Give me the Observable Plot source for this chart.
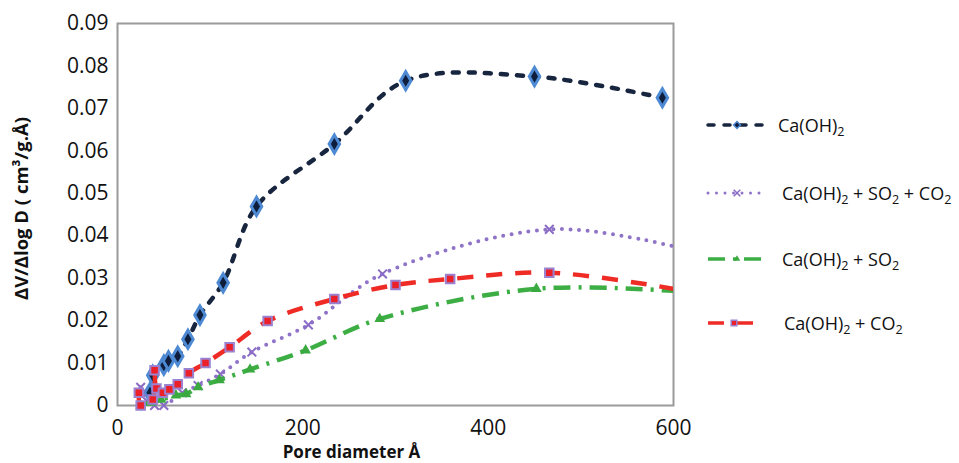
<!DOCTYPE html>
<html>
<head>
<meta charset="utf-8">
<script src="https://cdn.jsdelivr.net/npm/d3@7"></script>
<script src="https://cdn.jsdelivr.net/npm/@observablehq/plot@0.6"></script>
<style>
  html, body { margin: 0; padding: 0; background: #fff; }
  #wrap { position: relative; width: 959px; height: 463px; font-family: "Open Sans", sans-serif; }
  #chart { position: absolute; left: 0; top: 0; }
  #legend { position: absolute; left: 706px; top: 0; width: 253px; }
  .row { position: absolute; left: 0; display: flex; align-items: center; font-size: 18px; color: #111; white-space: nowrap; }
  .row svg { margin-right: 6px; }
  sub { font-size: 0.7em; vertical-align: -0.3em; line-height: 0; }
</style>
</head>
<body>
<div id="wrap">
  <div id="chart"></div>
  <div id="legend"></div>
</div>
<script>
// ---- data ----
const seriesNames = ["Ca(OH)2", "Ca(OH)2 + SO2 + CO2", "Ca(OH)2 + SO2", "Ca(OH)2 + CO2"];

const caohX = [35, 38, 50, 55, 65, 76, 89, 114, 150, 234, 311, 450, 588];
const caohY = [0.003, 0.0071, 0.0095, 0.0105, 0.0116, 0.0156, 0.0213, 0.0289, 0.0469, 0.0616, 0.0765, 0.0775, 0.0725];

const so2co2X = [25, 32, 40, 50, 70, 87, 111, 145, 206, 286, 466, 600];
const so2co2Y = [0.0043, 0.001, 0.0, 0.0, 0.003, 0.0047, 0.0074, 0.0126, 0.019, 0.031, 0.0415, 0.0375];

const so2X = [25, 36, 47, 63, 74, 87, 110, 143, 203, 283, 452, 600];
const so2Y = [0.0, 0.0007, 0.0014, 0.0024, 0.0027, 0.0043, 0.006, 0.0085, 0.013, 0.0204, 0.0275, 0.027];

const co2X = [23, 25, 38, 40, 42, 49, 56, 65, 77, 95, 121, 162, 234, 300, 359, 466, 600];
const co2Y = [0.003, 0.0, 0.0014, 0.0083, 0.004, 0.003, 0.0038, 0.005, 0.0076, 0.010, 0.0137, 0.0199, 0.0251, 0.0284, 0.0298, 0.0313, 0.0275];

const xTicks = [0, 200, 400, 600];
const yTicks = [0, 0.01, 0.02, 0.03, 0.04, 0.05, 0.06, 0.07, 0.08, 0.09];
const xLabel = "Pore diameter Å";
const yLabel = "ΔV/Δlog D ( cm³/g.Å)";

// ---- build tables ----
const zip = (xs, ys) => xs.map((x, i) => ({x, y: ys[i]}));
const caoh = zip(caohX, caohY);
const so2co2 = zip(so2co2X, so2co2Y);
const so2 = zip(so2X, so2Y);
const co2 = zip(co2X, co2Y);

// ---- styles ----
const S = {
  caoh:   {line: "#17253f", dash: "6,10", width: 4.5, cap: "round"},
  so2co2: {line: "#8f73c9", dash: "0,8.5", width: 4, cap: "round"},
  so2:    {line: "#3cae44", dash: "17,8,3,8", width: 4.5, cap: "butt"},
  co2:    {line: "#ee2b24", dash: "16,13", width: 4.5, cap: "butt"}
};

const lineMark = (data, s) => Plot.line(data, {
  x: "x", y: "y", curve: "catmull-rom", stroke: s.line, strokeWidth: s.width,
  strokeDasharray: s.dash, strokeLinecap: s.cap, clip: true
});

const chart = Plot.plot({
  width: 720,
  height: 463,
  marginLeft: 117,
  marginRight: 47,
  marginTop: 23,
  marginBottom: 58,
  style: {fontFamily: "Open Sans, sans-serif", fontSize: "21px", color: "#111", background: "#fff"},
  x: {domain: [0, 600], ticks: xTicks, tickSize: 0, tickPadding: 15, label: null},
  y: {domain: [0, 0.09], ticks: yTicks, tickSize: 0, tickPadding: 9, label: null,
      tickFormat: d => d === 0 ? "0" : d.toFixed(2)},
  marks: [
    Plot.frame({stroke: "#9a9a9a", strokeWidth: 2}),
    lineMark(caoh, S.caoh),
    Plot.dot(caoh, {x: "x", y: "y", symbol: "diamond", r: 5.5, fill: "#0f1e3c", stroke: "#4d8ad3", strokeWidth: 3}),
    lineMark(so2co2, S.so2co2),
    Plot.dot(so2co2.slice(0, -1), {x: "x", y: "y", symbol: "times", r: 4, stroke: "#8a6cc6", strokeWidth: 2}),
    lineMark(so2, S.so2),
    Plot.dot(so2.slice(0, -1), {x: "x", y: "y", symbol: "triangle", r: 4, fill: "#3aaa40"}),
    lineMark(co2, S.co2),
    Plot.dot(co2.slice(0, -1), {x: "x", y: "y", symbol: "square", r: 4.8, fill: "#ec2028", stroke: "#9a82d0", strokeWidth: 2}),
    Plot.text([xLabel], {frameAnchor: "bottom", textAnchor: "middle", lineAnchor: "middle", dy: 47, dx: -44, fontWeight: "bold", fontSize: 17, fill: "#111"}),
    Plot.text([yLabel], {frameAnchor: "left", textAnchor: "middle", lineAnchor: "middle", rotate: -90, dx: -95, dy: -6, fontWeight: "bold", fontSize: 18.5, fill: "#111"})
  ]
});
document.getElementById("chart").appendChild(chart);

// ---- legend ----
const legendRows = [
  {key: "caoh", top: 113, sym: "diamond", html: "Ca(OH)<sub>2</sub>", gap: 4},
  {key: "so2co2", top: 181, sym: "times", html: "Ca(OH)<sub>2</sub> + SO<sub>2</sub> + CO<sub>2</sub>", gap: 8},
  {key: "so2", top: 247, sym: "triangle", html: "Ca(OH)<sub>2</sub> + SO<sub>2</sub>", gap: 8},
  {key: "co2", top: 311, sym: "square", html: "Ca(OH)<sub>2</sub> + CO<sub>2</sub>", gap: 16}
];
const legend = document.getElementById("legend");
legendRows.forEach((r) => {
  const s = S[r.key];
  const row = document.createElement("div");
  row.className = "row";
  row.style.top = r.top + "px";
  const w = r.key === "co2" ? 56 : 62;
  const svg = d3.create("svg").attr("width", w).attr("height", 22);
  svg.append("line").attr("x1", 2).attr("x2", w - 2).attr("y1", 11).attr("y2", 11)
    .attr("stroke", s.line).attr("stroke-width", s.width - 1)
    .attr("stroke-dasharray", s.dash).attr("stroke-linecap", s.cap);
  const g = svg.append("g").attr("transform", `translate(${w / 2},11)`);
  if (r.sym === "diamond") g.append("path").attr("d", d3.symbol(d3.symbolDiamond2, 30)()).attr("fill", "#0f1e3c").attr("stroke", "#4d8ad3").attr("stroke-width", 1.5);
  if (r.sym === "times") g.append("path").attr("d", d3.symbol(d3.symbolTimes, 30)()).attr("fill", "none").attr("stroke", "#8a6cc6").attr("stroke-width", 1.5);
  if (r.sym === "triangle") g.append("path").attr("d", d3.symbol(d3.symbolTriangle2, 30)()).attr("fill", "#3aaa40");
  if (r.sym === "square") g.append("path").attr("d", d3.symbol(d3.symbolSquare2, 40)()).attr("fill", "#ec2028").attr("stroke", "#9a82d0").attr("stroke-width", 1.5);
  row.appendChild(svg.node());
  const span = document.createElement("span");
  span.innerHTML = r.html;
  span.style.marginLeft = r.gap + "px";
  row.appendChild(span);
  legend.appendChild(row);
});
</script>
</body>
</html>
